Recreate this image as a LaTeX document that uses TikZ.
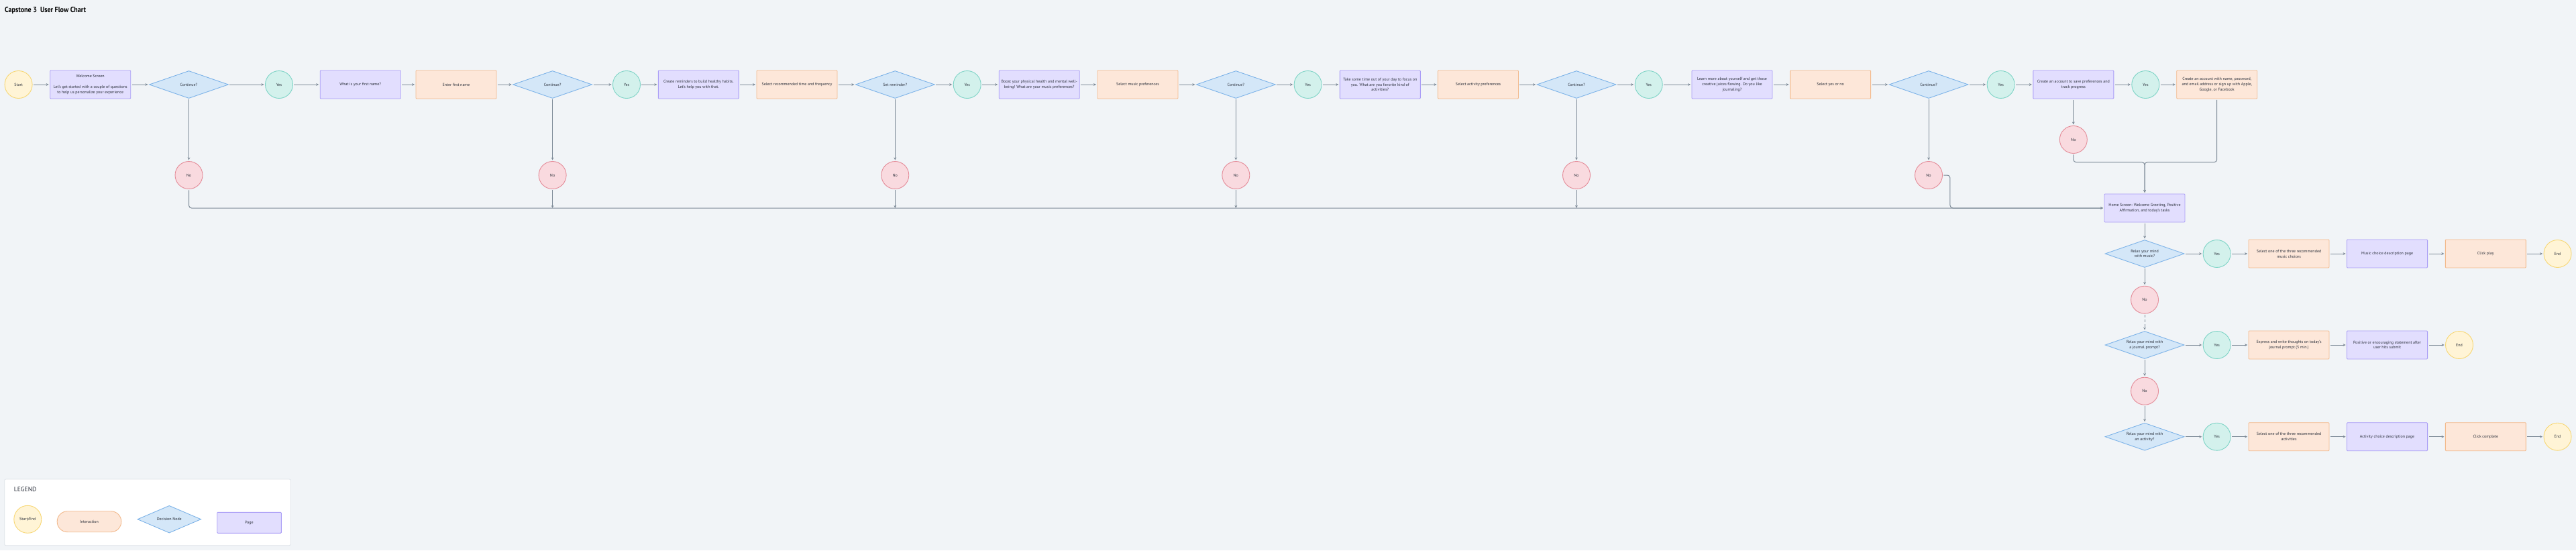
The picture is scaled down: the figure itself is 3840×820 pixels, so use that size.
\documentclass[tikz,border=0pt]{standalone}
\usepackage{fontspec}
\setmainfont{PT Sans}
\newfontfamily\titlefont{PT Sans}[FakeStretch=0.88]
\usetikzlibrary{arrows.meta,shapes.geometric,calc}
\definecolor{bgc}{HTML}{F1F4F7}
\definecolor{linec}{HTML}{7D8A97}
\definecolor{txtc}{HTML}{2B303B}
\definecolor{ylwf}{HTML}{FFF4D6}\definecolor{ylwd}{HTML}{F7D774}
\definecolor{pagef}{HTML}{E2DEFE}\definecolor{paged}{HTML}{A99CF6}
\definecolor{intf}{HTML}{FDE7D9}\definecolor{intd}{HTML}{F2B98C}
\definecolor{decf}{HTML}{D4E7F8}\definecolor{decd}{HTML}{7DB3E8}
\definecolor{yesf}{HTML}{D3F1EC}\definecolor{yesd}{HTML}{7ED4C6}
\definecolor{nof}{HTML}{F9DADF}\definecolor{nod}{HTML}{E48B98}
\definecolor{legd}{HTML}{DDE2E8}
\tikzset{
  base/.style={font=\fontsize{6}{7.8}\selectfont, text=txtc, align=center, inner sep=0pt, line width=0.9pt},
  pagebox/.style={base, draw=paged, fill=pagef, rectangle, rounded corners=1pt, minimum width=120pt, minimum height=42pt},
  actbox/.style={base, draw=intd, fill=intf, rectangle, rounded corners=1pt, minimum width=120pt, minimum height=42pt},
  decnode/.style={base, draw=decd, fill=decf, diamond, aspect=2.88, minimum width=118pt, minimum height=41pt},
  term/.style={base, draw=ylwd, fill=ylwf, circle, minimum size=41pt},
  yesnode/.style={base, draw=yesd, fill=yesf, circle, minimum size=41pt},
  nonode/.style={base, draw=nod, fill=nof, circle, minimum size=41pt},
  conn/.style={draw=linec, line width=1pt, -{Stealth[length=4pt,width=3.8pt]}, shorten >=1.5pt, shorten <=1.5pt},
}
\begin{document}
\begin{tikzpicture}[x=1pt,y=-1pt]
\fill[bgc] (0,0) rectangle (3840,820);
\useasboundingbox (0,0) rectangle (3840,820);
\node[anchor=base west, font=\titlefont\fontsize{11.4}{13}\selectfont\bfseries, text=black, inner sep=0pt] (title) at (7,18) {Capstone 3\ \ User Flow Chart};
% main row
\node[term] (start) at (27.6,126) {Start};
\node[pagebox] (welcome) at (134.7,126) {Welcome Screen\\[7.8pt]Let's get started with a couple of questions\\to help us personalize your experience};
\node[decnode] (d1) at (281.5,126) {Continue?};
\node[yesnode] (y1) at (416,126) {Yes};
\node[pagebox] (p1) at (537.2,126) {What is your first name?};
\node[actbox] (a1) at (680,126) {Enter first name};
\node[decnode] (d2) at (823.6,126) {Continue?};
\node[yesnode] (y2) at (934,126) {Yes};
\node[pagebox] (p2) at (1041.3,126) {Create reminders to build healthy habits.\\Let's help you with that.};
\node[actbox] (a2) at (1188,126) {Select recommended time and frequency};
\node[decnode] (d3) at (1334.3,126) {Set reminder?};
\node[yesnode] (y3) at (1441.7,126) {Yes};
\node[pagebox] (p3) at (1549.2,126) {Boost your physical health and mental well-\\being! What are your music preferences?};
\node[actbox] (a3) at (1696,126) {Select music preferences};
\node[decnode] (d4) at (1842.3,126) {Continue?};
\node[yesnode] (y4) at (1949.6,126) {Yes};
\node[pagebox] (p4) at (2057.3,126) {Take some time out of your day to focus on\\you. What are you favorite kind of\\activities?};
\node[actbox] (a4) at (2203.5,126) {Select activity preferences};
\node[decnode] (d5) at (2350,126) {Continue?};
\node[yesnode] (y5) at (2457.7,126) {Yes};
\node[pagebox] (p5) at (2582,126) {Learn more about yourself and get those\\creative juices flowing. Do you like\\journaling?};
\node[actbox] (a5) at (2728.6,126) {Select yes or no};
\node[decnode] (d6) at (2875,126) {Continue?};
\node[yesnode] (y6) at (2982.6,126) {Yes};
\node[pagebox] (p6) at (3090.8,126) {Create an account to save preferences and\\track progress};
\node[yesnode] (y7) at (3198.3,126) {Yes};
\node[actbox] (a6) at (3304.7,126) {Create an account with name, password,\\and email address or sign up with Apple,\\Google, or Facebook};
% no nodes
\node[nonode] (n1) at (281.5,261) {No};
\node[nonode] (n2) at (823.6,261) {No};
\node[nonode] (n3) at (1334.3,261) {No};
\node[nonode] (n4) at (1842.3,261) {No};
\node[nonode] (n5) at (2350,261) {No};
\node[nonode] (n6) at (2875,261) {No};
\node[nonode] (n7) at (3090.8,208) {No};
\node[pagebox] (home) at (3197,310) {Home Screen: Welcome Greeting, Positive\\Affirmation, and today's tasks};
\coordinate (jn) at (3197,241.7);
% lower section
\node[decnode] (dm) at (3197,378) {Relax your mind\\with music?};
\node[yesnode] (ym) at (3304.6,378) {Yes};
\node[actbox] (am) at (3412,378) {Select one of the three recommended\\music choices};
\node[pagebox] (pm) at (3558.5,378) {Music choice description page};
\node[actbox] (bm) at (3705.3,378) {Click play};
\node[term] (em) at (3812.5,378) {End};
\node[nonode] (nm) at (3197,446.7) {No};
\node[decnode] (dj) at (3197,514) {Relax your mind with\\a journal prompt?};
\node[yesnode] (yj) at (3304.6,514) {Yes};
\node[actbox] (aj) at (3412,514) {Express and write thoughts on today's\\journal prompt (5 min.)};
\node[pagebox] (pj) at (3558.5,514) {Positive or encouraging statement after\\user hits submit};
\node[term] (ej) at (3666,514) {End};
\node[nonode] (nj) at (3197,582.7) {No};
\node[decnode] (da) at (3197,650.7) {Relax your mind with\\an activity?};
\node[yesnode] (ya) at (3304.6,650.7) {Yes};
\node[actbox] (aa) at (3412,650.7) {Select one of the three recommended\\activities};
\node[pagebox] (pa) at (3558.5,650.7) {Activity choice description page};
\node[actbox] (ba) at (3705.3,650.7) {Click complete};
\node[term] (ea) at (3812.5,650.7) {End};
% connectors main row
\foreach \a/\b in {start/welcome,welcome/d1,d1/y1,y1/p1,p1/a1,a1/d2,d2/y2,y2/p2,p2/a2,a2/d3,d3/y3,y3/p3,p3/a3,a3/d4,d4/y4,y4/p4,p4/a4,a4/d5,d5/y5,y5/p5,p5/a5,a5/d6,d6/y6,y6/p6,p6/y7,y7/a6,d1/n1,d2/n2,d3/n3,d4/n4,d5/n5,d6/n6,p6/n7,home/dm,dm/ym,ym/am,am/pm,pm/bm,bm/em,dm/nm,dj/yj,yj/aj,aj/pj,pj/ej,dj/nj,nj/da,da/ya,ya/aa,aa/pa,pa/ba,ba/ea}
  \draw[conn] (\a) -- (\b);
\draw[conn,dashed,dash pattern=on 4pt off 3pt] (nm) -- (dj);
% bus
\draw[conn,rounded corners=4pt] (n1.south) |- (home.west);
\foreach \n in {n2,n3,n4,n5}
  \draw[conn,shorten >=0pt] (\n.south) -- (\n.south |- home.west);
\draw[conn,rounded corners=4pt] (n6.east) -- ++(11,0) |- (home.west);
\draw[conn,rounded corners=4pt] (n7.south) |- (jn) -- (home.north);
\draw[conn,rounded corners=4pt] (a6.south) |- (jn) -- (home.north);
% legend
\node[draw=legd, fill=white, rounded corners=2pt, line width=0.8pt, minimum width=426.6pt, minimum height=98.7pt, inner sep=0pt] (legend) at (220,763.35) {};
\node[anchor=base west, font=\fontsize{9.5}{11}\selectfont, text=txtc, inner sep=0pt] (legtitle) at (20.7,732.8) {LEGEND};
\node[term] (lgterm) at (41.3,773.8) {Start/End};
\node[actbox, rounded corners=15.5pt, minimum width=95.7pt, minimum height=31pt] (lgact) at (133,777.2) {Interaction};
\node[decnode, minimum width=94.7pt, minimum height=40.7pt] (lgdec) at (252.3,773.7) {Decision Node};
\node[pagebox, minimum width=95.6pt, minimum height=31pt] (lgpage) at (371.5,778.8) {Page};
\end{tikzpicture}
\end{document}
